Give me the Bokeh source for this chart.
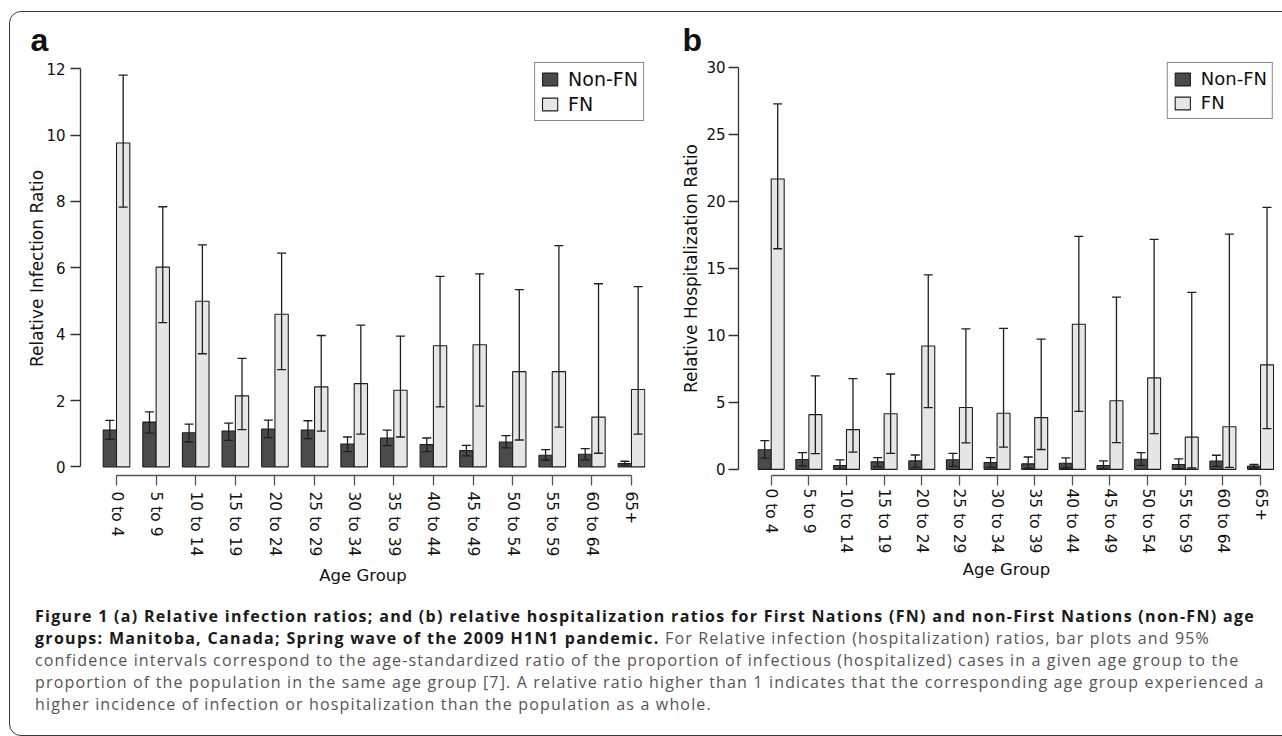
import math
from bokeh.plotting import figure
from bokeh.models import (ColumnDataSource, Whisker, TeeHead, Legend, LegendItem,
                          FixedTicker, Div, Range1d)
from bokeh.layouts import row, column
from bokeh.transform import dodge
from bokeh.embed import file_html
from bokeh.resources import INLINE

# ---------------- data ----------------
age_groups = ["0 to 4", "5 to 9", "10 to 14", "15 to 19", "20 to 24", "25 to 29",
              "30 to 34", "35 to 39", "40 to 44", "45 to 49", "50 to 54", "55 to 59",
              "60 to 64", "65+"]

# (a) relative infection ratio
inf_nonfn = [1.11, 1.35, 1.03, 1.08, 1.14, 1.11, 0.69, 0.87, 0.67, 0.49, 0.75, 0.35, 0.38, 0.10]
inf_nonfn_lo = [0.83, 1.02, 0.75, 0.80, 0.88, 0.85, 0.46, 0.64, 0.46, 0.33, 0.57, 0.20, 0.21, 0.05]
inf_nonfn_hi = [1.40, 1.66, 1.29, 1.32, 1.41, 1.39, 0.90, 1.11, 0.87, 0.65, 0.94, 0.52, 0.55, 0.17]
inf_fn = [9.76, 6.02, 4.99, 2.14, 4.60, 2.41, 2.51, 2.31, 3.65, 3.68, 2.87, 2.87, 1.50, 2.33]
inf_fn_lo = [7.83, 4.35, 3.41, 1.12, 2.93, 1.08, 0.99, 0.90, 1.81, 1.83, 0.81, 1.20, 0.41, 0.99]
inf_fn_hi = [11.81, 7.84, 6.69, 3.27, 6.44, 3.96, 4.27, 3.94, 5.74, 5.82, 5.34, 6.67, 5.52, 5.43]

# (b) relative hospitalization ratio
hosp_nonfn = [1.46, 0.73, 0.29, 0.56, 0.63, 0.71, 0.51, 0.41, 0.46, 0.29, 0.75, 0.36, 0.61, 0.24]
hosp_nonfn_lo = [0.83, 0.25, 0.02, 0.20, 0.17, 0.22, 0.15, 0.07, 0.10, 0.03, 0.29, 0.05, 0.22, 0.10]
hosp_nonfn_hi = [2.14, 1.24, 0.71, 0.87, 1.07, 1.19, 0.87, 0.92, 0.85, 0.63, 1.24, 0.78, 1.05, 0.36]
hosp_fn = [21.65, 4.08, 2.96, 4.15, 9.20, 4.61, 4.18, 3.86, 10.82, 5.12, 6.82, 2.40, 3.18, 7.79]
hosp_fn_lo = [16.45, 1.17, 1.29, 1.19, 4.61, 1.97, 1.65, 1.48, 4.32, 1.99, 2.67, 0.10, 0.15, 3.03]
hosp_fn_hi = [27.25, 6.97, 6.77, 7.11, 14.51, 10.48, 10.51, 9.71, 17.37, 12.84, 17.15, 13.20, 17.54, 19.53]

series_labels = ["Non-FN", "FN"]
inf_yticks = [0, 2, 4, 6, 8, 10, 12]
hosp_yticks = [0, 5, 10, 15, 20, 25, 30]

caption_lines = [
    ("Figure 1 (a) Relative infection ratios; and (b) relative hospitalization ratios for First Nations (FN) and non-First Nations (non-FN) age", ""),
    ("groups: Manitoba, Canada; Spring wave of the 2009 H1N1 pandemic.", " For Relative infection (hospitalization) ratios, bar plots and 95%"),
    ("", "confidence intervals correspond to the age-standardized ratio of the proportion of infectious (hospitalized) cases in a given age group to the"),
    ("", "proportion of the population in the same age group [7]. A relative ratio higher than 1 indicates that the corresponding age group experienced a"),
    ("", "higher incidence of infection or hospitalization than the population as a whole."),
]

DARK = "#4b4b4b"
LIGHT = "#e6e6e6"
EDGE = "#1e1e1e"
AXC = "#333333"
FONT = "DejaVu Sans"
TXT = "#111111"


def panel(letter, ylabel, yvals, ylo, yhi, fvals, flo, fhi, yticks,
          width, height, borders, xr, yr, bar_w, title_offset, ystand, xstand,
          ylab_stand, xlab_stand, legend_font):
    bl, br, bt, bb = borders
    src = ColumnDataSource(dict(x=list(range(len(age_groups))),
                                a=yvals, alo=ylo, ahi=yhi,
                                b=fvals, blo=flo, bhi=fhi))
    p = figure(width=width, height=height, x_range=Range1d(*xr), y_range=Range1d(*yr),
               output_backend="svg", toolbar_location=None,
               min_border_left=bl, min_border_right=br, min_border_top=bt,
               min_border_bottom=bb)
    p.outline_line_color = None
    p.grid.visible = False
    p.background_fill_color = "white"
    p.border_fill_color = "white"

    p.title.text = letter
    p.title.align = "left"
    p.title.offset = title_offset
    p.title.standoff = 7
    p.title.text_font = "Liberation Sans"
    p.title.text_font_style = "bold"
    p.title.text_font_size = "32px"
    p.title.text_color = TXT

    r1 = p.vbar(x=dodge("x", -bar_w / 2), top="a", bottom=0, width=bar_w, source=src,
                fill_color=DARK, line_color=EDGE, line_width=1.1)
    r2 = p.vbar(x=dodge("x", bar_w / 2), top="b", bottom=0, width=bar_w, source=src,
                fill_color=LIGHT, line_color=EDGE, line_width=1.1)

    for base, lo, hi in ((dodge("x", -bar_w / 2), "alo", "ahi"),
                         (dodge("x", bar_w / 2), "blo", "bhi")):
        w = Whisker(source=src, base=base, lower=lo, upper=hi, level="annotation",
                    line_color=EDGE, line_width=1.3,
                    upper_head=TeeHead(size=9, line_color=EDGE, line_width=1.3),
                    lower_head=TeeHead(size=9, line_color=EDGE, line_width=1.3))
        p.add_layout(w)

    # axes
    ya = p.yaxis[0]
    ya.ticker = FixedTicker(ticks=yticks)
    ya.bounds = (yticks[0], yticks[-1])
    ya.minor_tick_line_color = None
    ya.major_tick_in = 0
    ya.major_tick_out = 10
    ya.major_label_standoff = ystand
    ya.axis_line_color = AXC
    ya.axis_line_width = 1.3
    ya.major_tick_line_color = AXC
    ya.major_tick_line_width = 1.3
    ya.major_label_text_font = FONT
    ya.major_label_text_font_size = "15px"
    ya.major_label_text_color = TXT
    ya.axis_label = ylabel
    ya.axis_label_standoff = ylab_stand
    ya.axis_label_text_font = FONT
    ya.axis_label_text_font_style = "normal"
    ya.axis_label_text_font_size = "17px"
    ya.axis_label_text_color = TXT

    xa = p.xaxis[0]
    xa.ticker = FixedTicker(ticks=list(range(len(age_groups))))
    xa.major_label_overrides = {i: g for i, g in enumerate(age_groups)}
    xa.bounds = (0, len(age_groups) - 1)
    xa.minor_tick_line_color = None
    xa.major_tick_in = 0
    xa.major_tick_out = 10
    xa.major_label_orientation = "vertical"
    xa.major_label_standoff = xstand
    xa.axis_line_color = "#555555"
    xa.axis_line_width = 1.3
    xa.major_tick_line_color = "#555555"
    xa.major_tick_line_width = 1.3
    xa.major_label_text_font = FONT
    xa.major_label_text_font_size = "15.5px"
    xa.major_label_text_color = TXT
    xa.axis_label = "Age Group"
    xa.axis_label_standoff = xlab_stand
    xa.axis_label_text_font = FONT
    xa.axis_label_text_font_style = "normal"
    xa.axis_label_text_font_size = "16.5px"
    xa.axis_label_text_color = TXT

    legend = Legend(items=[LegendItem(label=series_labels[0], renderers=[r1]),
                           LegendItem(label=series_labels[1], renderers=[r2])],
                    location="top_right", margin=1, padding=5, spacing=3,
                    glyph_width=19, glyph_height=16, label_height=16, label_standoff=9,
                    label_text_font=FONT, label_text_font_size=legend_font,
                    label_text_color=TXT,
                    border_line_color=TXT, border_line_width=1.3,
                    background_fill_color="white", background_fill_alpha=1.0)
    p.add_layout(legend)
    return p


pa = panel("a", "Relative Infection Ratio", inf_nonfn, inf_nonfn_lo, inf_nonfn_hi,
           inf_fn, inf_fn_lo, inf_fn_hi, inf_yticks,
           width=660, height=588, borders=(80, 15, 61, 109),
           xr=(-0.909, 13.354), yr=(-0.26, 12.218), bar_w=0.336,
           title_offset=-50, ystand=5, xstand=6, ylab_stand=-4, xlab_stand=7,
           legend_font="19px")

pb = panel("b", "Relative Hospitalization Ratio", hosp_nonfn, hosp_nonfn_lo, hosp_nonfn_hi,
           hosp_fn, hosp_fn_lo, hosp_fn_hi, hosp_yticks,
           width=622, height=588, borders=(78, 8, 61, 103),
           xr=(-0.869, 13.371), yr=(-0.459, 30.416), bar_w=0.345,
           title_offset=-56, ystand=3, xstand=3, ylab_stand=2, xlab_stand=4,
           legend_font="18px")

lines_html = ""
for bold, regular in caption_lines:
    seg = ""
    if bold:
        seg += ('<span style="font-weight:700;color:#1a1a1a;letter-spacing:1.3px;">%s</span>'
                % bold)
    if regular:
        seg += ('<span style="color:#555555;letter-spacing:1.16px;">%s</span>' % regular)
    lines_html += '<div style="height:22px;line-height:22px;">%s</div>' % seg

caption_html = (
    '<div style="position:fixed;left:9px;top:11px;width:1400px;height:725px;'
    'border:1.5px solid #3a3a3a;border-radius:12px;pointer-events:none;'
    'box-sizing:border-box;z-index:10;"></div>'
    '<div style="font-family:\'Open Sans\';font-size:16px;'
    'padding-top:12px;padding-left:30px;white-space:nowrap;">' + lines_html + '</div>'
)
caption = Div(text=caption_html, width=1282, height=148)

layout = column(row(pa, pb), caption)
open("out.html", "w").write(file_html(layout, INLINE))
